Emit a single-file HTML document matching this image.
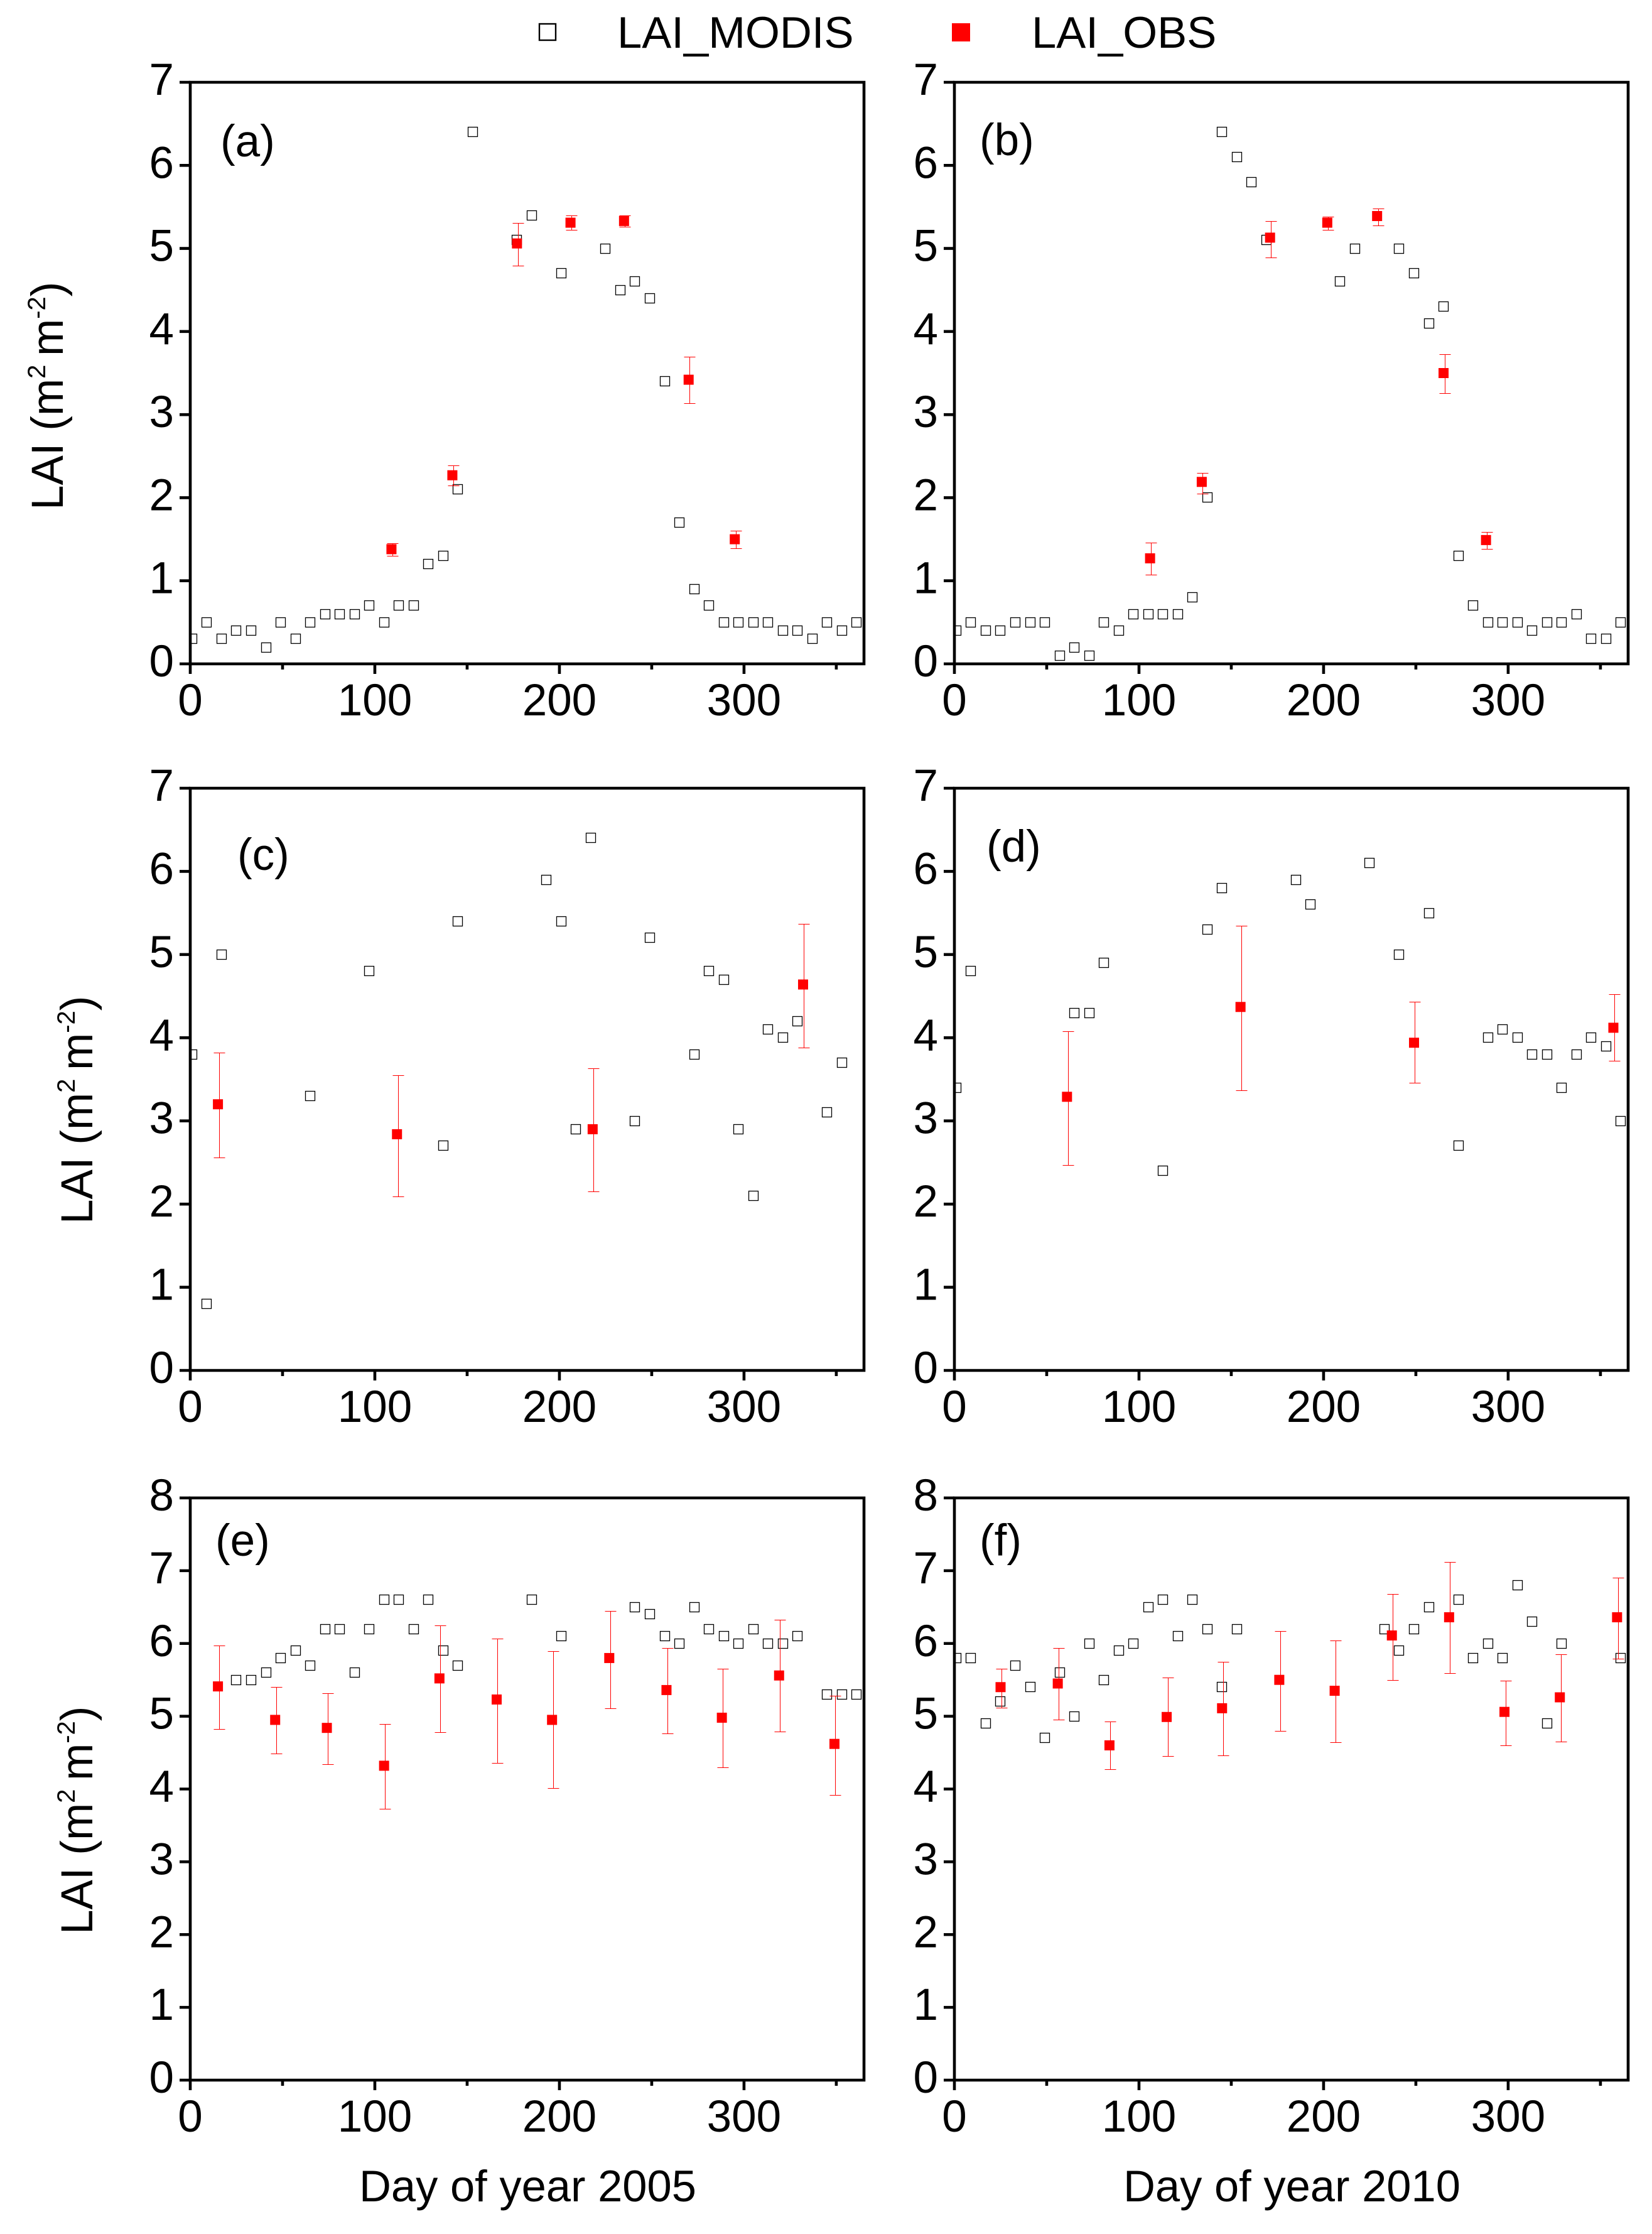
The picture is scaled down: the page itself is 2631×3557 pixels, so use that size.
<!DOCTYPE html>
<html lang="en">
<head>
<meta charset="utf-8">
<title>LAI MODIS vs observed, 2005 and 2010</title>
<style>
html,body{margin:0;padding:0;background:#fff;}
svg{display:block;}
text{font-family:"Liberation Sans",sans-serif;fill:#000;}
</style>
</head>
<body>
<svg id="figure" xmlns="http://www.w3.org/2000/svg" width="2631" height="3557" viewBox="0 0 2631 3557">
  <rect x="0" y="0" width="2631" height="3557" fill="#fff"/>
  <g>
    <g>
      <rect x="859" y="38" width="26" height="26" fill="#fff" stroke="#000" stroke-width="2.4"/>
      <text x="983" y="76" font-size="70.6">LAI_MODIS</text>
    </g>
    <g>
      <rect x="1516" y="37" width="29" height="29" fill="#ff0000"/>
      <text x="1643" y="76" font-size="70.6">LAI_OBS</text>
    </g>
  </g>
  <g id="panels"></g>
  <g>
    <text x="351" y="249" font-size="71">(a)</text>
    <text x="1560" y="247" font-size="71">(b)</text>
    <text x="378" y="1385" font-size="71">(c)</text>
    <text x="1571" y="1372" font-size="71">(d)</text>
    <text x="343" y="2477" font-size="71">(e)</text>
    <text x="1560" y="2477" font-size="71">(f)</text>
  </g>
  <g>
    <text transform="translate(100,812) rotate(-90)" font-size="71">LAI (m<tspan font-size="40" dy="-28">2</tspan><tspan dy="28" dx="-6"> m</tspan><tspan font-size="40" dy="-28">-2</tspan><tspan dy="28">)</tspan></text>
    <text transform="translate(147,1949) rotate(-90)" font-size="71">LAI (m<tspan font-size="40" dy="-28">2</tspan><tspan dy="28" dx="-6"> m</tspan><tspan font-size="40" dy="-28">-2</tspan><tspan dy="28">)</tspan></text>
    <text transform="translate(147,3080) rotate(-90)" font-size="71">LAI (m<tspan font-size="40" dy="-28">2</tspan><tspan dy="28" dx="-6"> m</tspan><tspan font-size="40" dy="-28">-2</tspan><tspan dy="28">)</tspan></text>
  </g>
  <g>
    <text x="572" y="3505" font-size="70.5">Day of year 2005</text>
    <text x="1789" y="3505" font-size="70.5">Day of year 2010</text>
  </g>
</svg>
<script>
const xMajorTicks = [0, 100, 200, 300];
const xMinorTicks = [50, 150, 250, 350];
const yTicksTo7 = [0, 1, 2, 3, 4, 5, 6, 7];
const yTicksTo8 = [0, 1, 2, 3, 4, 5, 6, 7, 8];

const modisDaysA = [1,9,17,25,33,41,49,57,65,73,81,89,97,105,113,121,129,137,145,153,177,185,201,225,233,241,249,257,265,273,281,289,297,305,313,321,329,337,345,353,361];
const modisValuesA = [0.3,0.5,0.3,0.4,0.4,0.2,0.5,0.3,0.5,0.6,0.6,0.6,0.7,0.5,0.7,0.7,1.2,1.3,2.1,6.4,5.1,5.4,4.7,5.0,4.5,4.6,4.4,3.4,1.7,0.9,0.7,0.5,0.5,0.5,0.5,0.4,0.4,0.3,0.5,0.4,0.5];
const obsDaysA = [109,142,177,206,235,270,295];
const obsValuesA = [1.38,2.27,5.06,5.31,5.33,3.42,1.50];
const obsUpperA = [1.45,2.39,5.31,5.40,5.40,3.70,1.60];
const obsLowerA = [1.30,2.15,4.79,5.22,5.26,3.14,1.39];

const modisDaysB = [1,9,17,25,33,41,49,57,65,73,81,89,97,105,113,121,129,137,145,153,161,169,209,217,241,249,257,265,273,281,289,297,305,313,321,329,337,345,353,361];
const modisValuesB = [0.4,0.5,0.4,0.4,0.5,0.5,0.5,0.1,0.2,0.1,0.5,0.4,0.6,0.6,0.6,0.6,0.8,2.0,6.4,6.1,5.8,5.1,4.6,5.0,5.0,4.7,4.1,4.3,1.3,0.7,0.5,0.5,0.5,0.4,0.5,0.5,0.6,0.3,0.3,0.5];
const obsDaysB = [106,134,171,202,229,265,288];
const obsValuesB = [1.27,2.19,5.13,5.31,5.39,3.50,1.49];
const obsUpperB = [1.46,2.30,5.33,5.38,5.48,3.73,1.59];
const obsLowerB = [1.07,2.05,4.89,5.22,5.28,3.26,1.38];

const modisDaysC = [1,9,17,65,97,137,145,193,201,209,217,241,249,273,281,289,297,305,313,321,329,345,353];
const modisValuesC = [3.8,0.8,5.0,3.3,4.8,2.7,5.4,5.9,5.4,2.9,6.4,3.0,5.2,3.8,4.8,4.7,2.9,2.1,4.1,4.0,4.2,3.1,3.7];
const obsDaysC = [15,112,218,332];
const obsValuesC = [3.20,2.84,2.90,4.64];
const obsUpperC = [3.82,3.55,3.63,5.37];
const obsLowerC = [2.56,2.09,2.15,3.88];

const modisDaysD = [1,9,65,73,81,113,137,145,185,193,225,241,257,273,289,297,305,313,321,329,337,345,353,361];
const modisValuesD = [3.4,4.8,4.3,4.3,4.9,2.4,5.3,5.8,5.9,5.6,6.1,5.0,5.5,2.7,4.0,4.1,4.0,3.8,3.8,3.4,3.8,4.0,3.9,3.0];
const obsDaysD = [61,155,249,357];
const obsValuesD = [3.29,4.37,3.94,4.12];
const obsUpperD = [4.08,5.35,4.43,4.52];
const obsLowerD = [2.47,3.37,3.46,3.72];

const modisDaysE = [25,33,41,49,57,65,73,81,89,97,105,113,121,129,137,145,185,201,241,249,257,265,273,281,289,297,305,313,321,329,345,353,361];
const modisValuesE = [5.5,5.5,5.6,5.8,5.9,5.7,6.2,6.2,5.6,6.2,6.6,6.6,6.2,6.6,5.9,5.7,6.6,6.1,6.5,6.4,6.1,6.0,6.5,6.2,6.1,6.0,6.2,6.0,6.0,6.1,5.3,5.3,5.3];
const obsDaysE = [15,46,74,105,135,166,196,227,258,288,319,349];
const obsValuesE = [5.41,4.95,4.84,4.32,5.52,5.23,4.95,5.80,5.36,4.98,5.56,4.62];
const obsUpperE = [5.97,5.40,5.32,4.89,6.25,6.07,5.89,6.45,5.94,5.65,6.33,5.28];
const obsLowerE = [4.82,4.49,4.34,3.73,4.78,4.36,4.01,5.11,4.76,4.30,4.79,3.92];

const modisDaysF = [1,9,17,25,33,41,49,57,65,73,81,89,97,105,113,121,129,137,145,153,233,241,249,257,273,281,289,297,305,313,321,329,361];
const modisValuesF = [5.8,5.8,4.9,5.2,5.7,5.4,4.7,5.6,5.0,6.0,5.5,5.9,6.0,6.5,6.6,6.1,6.6,6.2,5.4,6.2,6.2,5.9,6.2,6.5,6.6,5.8,6.0,5.8,6.8,6.3,4.9,6.0,5.8];
const obsDaysF = [25,56,84,115,145,176,206,237,268,298,328,359];
const obsValuesF = [5.40,5.45,4.60,4.99,5.11,5.50,5.35,6.11,6.36,5.06,5.26,6.36];
const obsUpperF = [5.65,5.94,4.93,5.53,5.75,6.17,6.04,6.68,7.12,5.49,5.85,6.90];
const obsLowerF = [5.12,4.95,4.27,4.45,4.46,4.80,4.64,5.50,5.59,4.60,4.65,5.79];

const SVG_NS = 'http://www.w3.org/2000/svg';
const X_MAX = 365;
const AXIS_WIDTH = 4.6;

function make(parent, tag, attrs) {
  const el = document.createElementNS(SVG_NS, tag);
  for (const k in attrs) el.setAttribute(k, attrs[k]);
  parent.appendChild(el);
  return el;
}

function drawPanel(id, frame, yTicks, modisDays, modisValues, obsDays, obsValues, obsUpper, obsLower) {
  const root = document.getElementById('panels');
  const yMax = yTicks[yTicks.length - 1];
  const xScale = d => frame.left + d * (frame.right - frame.left) / X_MAX;
  const yScale = v => frame.bottom - v * (frame.bottom - frame.top) / yMax;

  const panel = make(root, 'g', {});
  
  

  const defs = make(panel, 'defs', {});
  const clip = make(defs, 'clipPath', { id: 'clip-' + id });
  make(clip, 'rect', { x: frame.left, y: frame.top, width: frame.right - frame.left, height: frame.bottom - frame.top });

  const modisGroup = make(panel, 'g', { 'clip-path': 'url(#clip-' + id + ')' });
  
  
  modisDays.forEach((d, i) => {
    const cx = Math.round(xScale(d));
    const cy = Math.round(yScale(modisValues[i]));
    const sq = make(modisGroup, 'rect', { x: cx - 7.5, y: cy - 7.5, width: 15, height: 15, fill: '#fff', stroke: '#000', 'stroke-width': 1.3 });
    
    
  });

  const obsGroup = make(panel, 'g', {});
  
  
  obsDays.forEach((d, i) => {
    const cx = xScale(d);
    const barX = Math.round(cx + 1.5) + 0.5;
    const yHi = Math.round(yScale(obsUpper[i])) + 0.5;
    const yLo = Math.round(yScale(obsLower[i])) + 0.5;
    const err = make(obsGroup, 'path', {
      d: 'M' + barX + ' ' + yHi + 'V' + yLo +
         'M' + (barX - 9) + ' ' + yHi + 'H' + (barX + 9) +
         'M' + (barX - 9) + ' ' + yLo + 'H' + (barX + 9),
      stroke: '#ff0000', 'stroke-width': 1, fill: 'none'
    });
    
    
    const pt = make(obsGroup, 'rect', { x: cx - 8, y: yScale(obsValues[i]) - 8, width: 16, height: 16, fill: '#ff0000' });
    
    
  });

  const axes = make(panel, 'g', { stroke: '#000', 'stroke-width': AXIS_WIDTH, fill: 'none' });
  
  

  const frameLine = make(axes, 'path', {
    d: 'M' + frame.left + ' ' + frame.top + 'H' + frame.right + 'V' + frame.bottom + 'H' + frame.left + 'Z'
  });
  
  

  yTicks.forEach(v => {
    const y = yScale(v);
    const tick = make(axes, 'line', { x1: frame.left - 17, x2: frame.left, y1: y, y2: y });
    
    
    const label = make(panel, 'text', { x: frame.left - 26, y: y + 20, 'font-size': 71, 'text-anchor': 'end' });
    
    
    label.textContent = String(v);
  });

  xMajorTicks.forEach(v => {
    const x = xScale(v);
    const tick = make(axes, 'line', { x1: x, x2: x, y1: frame.bottom, y2: frame.bottom + 16 });
    
    
    const label = make(panel, 'text', { x: x, y: frame.bottom + 82, 'font-size': 71, 'text-anchor': 'middle' });
    
    
    label.textContent = String(v);
  });

  xMinorTicks.forEach(v => {
    const x = xScale(v);
    const tick = make(axes, 'line', { x1: x, x2: x, y1: frame.bottom, y2: frame.bottom + 9 });
    
    
  });
}

drawPanel('a', { left: 303, right: 1376, top: 131, bottom: 1057 }, yTicksTo7, modisDaysA, modisValuesA, obsDaysA, obsValuesA, obsUpperA, obsLowerA);
drawPanel('b', { left: 1520, right: 2593, top: 131, bottom: 1057 }, yTicksTo7, modisDaysB, modisValuesB, obsDaysB, obsValuesB, obsUpperB, obsLowerB);
drawPanel('c', { left: 303, right: 1376, top: 1255, bottom: 2182 }, yTicksTo7, modisDaysC, modisValuesC, obsDaysC, obsValuesC, obsUpperC, obsLowerC);
drawPanel('d', { left: 1520, right: 2593, top: 1255, bottom: 2182 }, yTicksTo7, modisDaysD, modisValuesD, obsDaysD, obsValuesD, obsUpperD, obsLowerD);
drawPanel('e', { left: 303, right: 1376, top: 2385, bottom: 3312 }, yTicksTo8, modisDaysE, modisValuesE, obsDaysE, obsValuesE, obsUpperE, obsLowerE);
drawPanel('f', { left: 1520, right: 2593, top: 2385, bottom: 3312 }, yTicksTo8, modisDaysF, modisValuesF, obsDaysF, obsValuesF, obsUpperF, obsLowerF);
</script>
</body>
</html>
